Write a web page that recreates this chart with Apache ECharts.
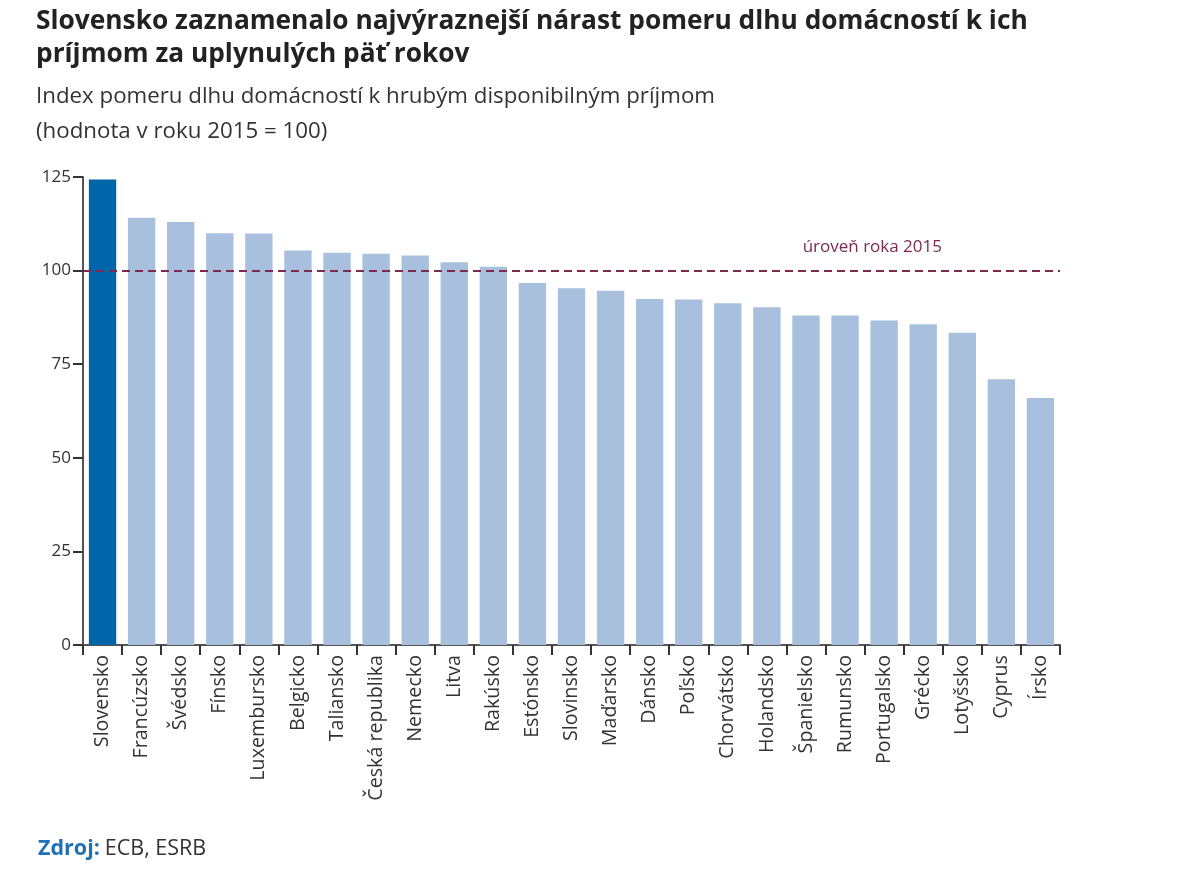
<!DOCTYPE html>
<html>
<head>
<meta charset="utf-8">
<script src="https://cdn.jsdelivr.net/npm/echarts@6/dist/echarts.min.js"></script>
<style>
html,body{margin:0;padding:0;background:#fff;}
#chart{width:1200px;height:877px;}
</style>
</head>
<body>
<div id="chart"></div>
<script>
const categories = ['Slovensko','Francúzsko','Švédsko','Fínsko','Luxembursko','Belgicko','Taliansko','Česká republika','Nemecko','Litva','Rakúsko','Estónsko','Slovinsko','Maďarsko','Dánsko','Poľsko','Chorvátsko','Holandsko','Španielsko','Rumunsko','Portugalsko','Grécko','Lotyšsko','Cyprus','Írsko'];
const values = [124.3,114.1,113.0,110.0,109.9,105.4,104.8,104.5,104.0,102.2,101.0,96.7,95.3,94.6,92.4,92.3,91.3,90.2,88.0,88.0,86.7,85.7,83.4,71.0,66.0];
const highlight = 'Slovensko';
const referenceValue = 100;
const referenceLabel = 'úroveň roka 2015';
const yTicks = [0,25,50,75,100,125];

const font = "'Open Sans', 'Noto Sans', sans-serif";
const chart = echarts.init(document.getElementById('chart'));
chart.setOption({
  backgroundColor: '#fff',
  animation: false,
  title: [
    {
      text: 'Slovensko zaznamenalo najvýraznejší nárast pomeru dlhu domácností k ich\npríjmom za uplynulých päť rokov',
      left: 31, top: 0,
      textStyle: {fontFamily: font, fontSize: 26.3, fontWeight: 'bold', color: '#222', lineHeight: 33}
    },
    {
      text: 'Index pomeru dlhu domácností k hrubým disponibilným príjmom\n(hodnota v roku 2015 = 100)',
      left: 31, top: 74,
      textStyle: {fontFamily: font, fontSize: 22.3, fontWeight: 'normal', color: '#333', lineHeight: 35}
    },
    {
      text: '{a|Zdroj:} {b|ECB, ESRB}',
      left: 33, top: 832,
      textStyle: {rich: {
        a: {fontFamily: font, fontSize: 21.5, color: '#1f6fb5', fontWeight: 'bold', lineHeight: 24},
        b: {fontFamily: font, fontSize: 21.5, color: '#333', fontWeight: 'normal', lineHeight: 24}
      }}
    }
  ],
  grid: {left: 83, right: 140, top: 177, bottom: 232},
  xAxis: {
    type: 'category',
    data: categories,
    axisLine: {show: true, lineStyle: {color: '#555', width: 2}},
    axisTick: {show: true, length: 10, lineStyle: {color: '#333', width: 2}},
    axisLabel: {rotate: 90, interval: 0, fontFamily: font, fontSize: 19.7, color: '#333', margin: 10}
  },
  yAxis: {
    type: 'value',
    min: yTicks[0], max: yTicks[yTicks.length-1], interval: 25,
    splitLine: {show: false},
    axisLine: {show: true, lineStyle: {color: '#555', width: 2}},
    axisTick: {show: true, length: 10, lineStyle: {color: '#333', width: 2}},
    axisLabel: {fontFamily: font, fontSize: 17, color: '#333', margin: 12}
  },
  series: [{
    type: 'bar',
    data: values.map((v,i) => ({value: v, itemStyle: {color: categories[i] === highlight ? '#0065a9' : '#a8c0de'}})),
    barCategoryGap: '30%',
    markLine: {
      silent: true,
      symbol: 'none',
      lineStyle: {color: '#7d2a4c', type: [8,5], width: 2},
      label: {
        show: true,
        position: 'insideEndTop',
        formatter: referenceLabel,
        fontFamily: font, fontSize: 17, color: '#7d2a4c',
        padding: [0, 113, 10, 0]
      },
      data: [{yAxis: referenceValue}]
    }
  }]
});
</script>
</body>
</html>
